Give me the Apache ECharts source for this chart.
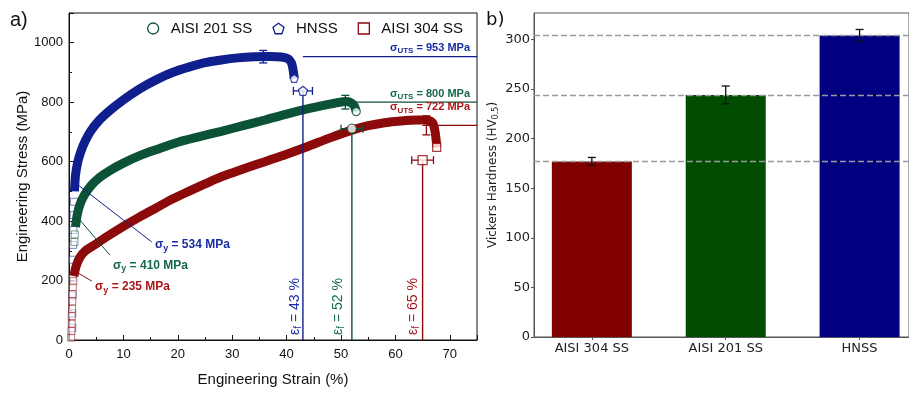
<!DOCTYPE html>
<html>
<head>
<meta charset="utf-8">
<script src="https://cdn.jsdelivr.net/npm/echarts@6/dist/echarts.min.js"></script>
<style>
html, body { margin: 0; padding: 0; background: #fff; }
#chart { width: 909px; height: 393px; }
</style>
</head>
<body>
<div id="chart"></div>
<script>
// ---- Tensile test curves: [engineering strain %, engineering stress MPa] ----
const hnssCurve = [
  [1.0,500],[1.2,555],[1.6,598],[2.2,635],[3,670],[4,703],[5.5,738],[7.5,772],
  [10,808],[13,845],[16,875],[19,900],[22,918],[25,933],[28,942],[31,949],
  [34,953],[37,954],[39,952],[40.3,946],[40.9,932],[41.2,908],[41.4,880]
];
const ss201Curve = [
  [1.2,380],[1.5,420],[2,455],[2.8,487],[4,518],[5.5,545],[7.5,570],[10,595],
  [13,620],[16,640],[20,665],[24,684],[28,702],[32,721],[36,740],[40,760],
  [44,778],[47,790],[49.5,799],[51,802],[52,796],[52.5,785],[52.8,768]
];
const ss304Curve = [
  [0.9,215],[1.3,248],[2,278],[3,300],[4.5,318],[7,348],[10,382],[13,414],
  [16,444],[19,474],[22,500],[25,525],[28,549],[32,575],[36,600],[40,625],
  [44,652],[48,680],[52,706],[55,721],[58,731],[61,737],[64,740],[65.5,740],
  [66.5,736],[67,724],[67.3,700],[67.5,672],[67.6,648]
];
// elastic-range samples drawn as open markers
const hnssElastic = [[0.6,40],[0.6,90],[0.65,150],[0.7,210],[0.7,270],[0.75,320],[0.8,370],[0.85,420],[0.9,465]];
const ss201Elastic = [[1.0,330],[1.05,355]];
const ss304Elastic = [[0.4,8],[0.45,30],[0.5,55],[0.5,80],[0.55,105],[0.6,130],[0.65,155],[0.7,178],[0.8,198]];

// ---- Key properties, order: AISI 201 SS, HNSS, AISI 304 SS ----
const alloyNames     = ['AISI 201 SS', 'HNSS', 'AISI 304 SS'];
const yieldStress    = [410, 534, 235];
const yieldStrain    = [1.7, 0.8, 0.8];
const utsStress      = [800, 953, 722];
const utsStrain      = [50.8, 35.7, 65.7];
const utsErr         = [23, 21, 32];
const fractureStrain = [52, 43, 65];
const fractureStress = [711, 838, 605];
const fractureErr    = [2, 1.75, 2];

// ---- Vickers hardness ----
const hardnessCats = ['AISI 304 SS', 'AISI 201 SS', 'HNSS'];
const hardness     = [177, 244, 304];
const hardnessErr  = [4, 9, 6];

// ---- styling ----
const lineColors = ['#0c5236', '#0f1f8e', '#8c0a0a'];
const textColors = ['#17694a', '#1a2ca6', '#a8171b'];
const markerSymbols = ['circle', 'path://M0,-10L9.51,-3.09L5.88,8.09L-5.88,8.09L-9.51,-3.09Z', 'rect'];
const barColors = ['#800000', '#004d00', '#000080'];
const curves = [ss201Curve, hnssCurve, ss304Curve];
const elastic = [ss201Elastic, hnssElastic, ss304Elastic];
const LEFT_FONT = '"Liberation Sans", Arial, sans-serif';
const RIGHT_FONT = '"DejaVu Sans", sans-serif';
const STRAIN_MAX = 75;

// annotation anchor layout (data coordinates of the left panel)
const yieldLabelAt = [[8.1, 249], [15.8, 319], [4.8, 178]];
const yieldLeaderEnd = [[7.5, 286], [15.2, 330], [4.2, 198]];
const utsLabelOffset = [-1, -2, -11];
const fracLabelOffset = [-14, -8, -9];

function renderAnnotations(params, api) {
  const i = params.dataIndex;
  const c = lineColors[i];
  const tc = textColors[i];
  const P = (x, y) => api.coord([x, y]);
  const seg = (a, b, w) => ({ type: 'line', shape: { x1: a[0], y1: a[1], x2: b[0], y2: b[1] },
    style: { stroke: c, lineWidth: w || 1.2 } });
  const kids = [];
  // UTS level line
  kids.push(seg(P(fractureStrain[i], utsStress[i]), P(STRAIN_MAX, utsStress[i]), 1.3));
  // UTS error bar
  const t = P(utsStrain[i], utsStress[i] + utsErr[i]);
  const b = P(utsStrain[i], utsStress[i] - utsErr[i]);
  kids.push(seg(t, b, 1.3), seg([t[0] - 4, t[1]], [t[0] + 4, t[1]], 1.3), seg([b[0] - 4, b[1]], [b[0] + 4, b[1]], 1.3));
  // fracture strain drop line
  const f = P(fractureStrain[i], fractureStress[i]);
  kids.push(seg(f, P(fractureStrain[i], 0), 1.4));
  // fracture strain error bar
  const l = P(fractureStrain[i] - fractureErr[i], fractureStress[i]);
  const r = P(fractureStrain[i] + fractureErr[i], fractureStress[i]);
  kids.push(seg(l, r, 1.3), seg([l[0], l[1] - 4], [l[0], l[1] + 4], 1.3), seg([r[0], r[1] - 4], [r[0], r[1] + 4], 1.3));
  // yield leader line
  kids.push(seg(P(yieldStrain[i], yieldStress[i]), P(yieldLeaderEnd[i][0], yieldLeaderEnd[i][1]), 1));
  // σ_UTS label
  const ut = P(STRAIN_MAX, utsStress[i]);
  kids.push({ type: 'text', x: ut[0] - 7, y: ut[1] + utsLabelOffset[i],
    style: { text: '{g|σ}{s|UTS}{g| = ' + utsStress[i] + ' MPa}', align: 'right', verticalAlign: 'bottom',
      rich: {
        g: { fill: tc, fontSize: 11, fontWeight: 'bold', fontFamily: LEFT_FONT, lineHeight: 14 },
        s: { fill: tc, fontSize: 8, fontWeight: 'bold', fontFamily: LEFT_FONT, lineHeight: 8, padding: [6, 0, 0, 0] }
      } } });
  // σ_y label
  const yl = P(yieldLabelAt[i][0], yieldLabelAt[i][1]);
  kids.push({ type: 'text', x: yl[0], y: yl[1],
    style: { text: '{g|σ}{s|y}{g| = ' + yieldStress[i] + ' MPa}', align: 'left', verticalAlign: 'middle',
      rich: {
        g: { fill: tc, fontSize: 12, fontWeight: 'bold', fontFamily: LEFT_FONT, lineHeight: 15 },
        s: { fill: tc, fontSize: 9, fontWeight: 'bold', fontFamily: LEFT_FONT, lineHeight: 9, padding: [6, 0, 0, 0] }
      } } });
  // ε_f label
  const fb = P(fractureStrain[i], 0);
  kids.push({ type: 'text', x: fb[0] + fracLabelOffset[i], y: fb[1] - 5, rotation: Math.PI / 2,
    style: { text: '{g|ε}{s|f}{g| = ' + fractureStrain[i] + ' %}', align: 'left', verticalAlign: 'middle',
      rich: {
        g: { fill: tc, fontSize: 14, fontWeight: 500, fontFamily: LEFT_FONT, lineHeight: 16 },
        s: { fill: tc, fontSize: 10, fontFamily: LEFT_FONT, lineHeight: 10, padding: [6, 0, 0, 0] }
      } } });
  return { type: 'group', children: kids };
}

function renderHardnessErr(params, api) {
  const x = api.value(0), v = api.value(1), e = api.value(2);
  const t = api.coord([x, v + e]), b = api.coord([x, v - e]);
  const st = { stroke: '#111', lineWidth: 1.3 };
  return { type: 'group', children: [
    { type: 'line', shape: { x1: t[0], y1: t[1], x2: b[0], y2: b[1] }, style: st },
    { type: 'line', shape: { x1: t[0] - 4, y1: t[1], x2: t[0] + 4, y2: t[1] }, style: st },
    { type: 'line', shape: { x1: b[0] - 4, y1: b[1], x2: b[0] + 4, y2: b[1] }, style: st }
  ] };
}

const series = [];
// elastic markers (faint open symbols)
[1, 0, 2].forEach(i => {
  series.push({
    type: 'scatter', xAxisIndex: 0, yAxisIndex: 0, data: elastic[i], symbol: 'rect', symbolSize: 7,
    itemStyle: { color: '#fff', borderColor: lineColors[i], borderWidth: 1, opacity: 0.55 },
    silent: true, z: 3
  });
});
// stress-strain curves
[1, 0, 2].forEach(i => {
  series.push({
    name: alloyNames[i], type: 'line', xAxisIndex: 0, yAxisIndex: 0, data: curves[i],
    smooth: 0.3, showSymbol: false, lineStyle: { color: lineColors[i], width: 9 },
    itemStyle: { color: lineColors[i] }, z: 4
  });
});
// open marker on the last recorded point of each curve
alloyNames.forEach((n, i) => {
  series.push({
    type: 'scatter', xAxisIndex: 0, yAxisIndex: 0, data: [curves[i][curves[i].length - 1]],
    symbol: markerSymbols[i], symbolSize: 8,
    itemStyle: { color: '#fff', borderColor: lineColors[i], borderWidth: 1.2 }, z: 5, silent: true
  });
});
// annotations
series.push({
  type: 'custom', xAxisIndex: 0, yAxisIndex: 0, renderItem: renderAnnotations,
  data: alloyNames.map((n, i) => [fractureStrain[i], fractureStress[i]]), z: 5, silent: true
});
// fracture point markers
alloyNames.forEach((n, i) => {
  series.push({
    type: 'scatter', xAxisIndex: 0, yAxisIndex: 0, data: [[fractureStrain[i], fractureStress[i]]],
    symbol: markerSymbols[i], symbolSize: 9,
    itemStyle: { color: '#fff', borderColor: lineColors[i], borderWidth: 1.3 }, z: 6, silent: true
  });
});
// hardness bars
series.push({
  type: 'bar', xAxisIndex: 1, yAxisIndex: 1, barWidth: 80,
  data: hardness.map((v, i) => ({ value: [i, v], itemStyle: { color: barColors[i] } })),
  markLine: {
    silent: true, symbol: 'none', label: { show: false },
    lineStyle: { color: '#9a9a9a', type: [6, 3], width: 1.3 },
    data: hardness.map(v => ({ yAxis: v }))
  },
  z: 2
});
series.push({
  type: 'custom', xAxisIndex: 1, yAxisIndex: 1, renderItem: renderHardnessErr,
  data: hardness.map((v, i) => [i, v, hardnessErr[i]]), z: 5, silent: true
});

const chart = echarts.init(document.getElementById('chart'), null, { renderer: 'canvas' });
chart.setOption({
  animation: false,
  backgroundColor: '#fff',
  grid: [
    { left: 69, top: 13, width: 408, height: 327, show: true, borderColor: '#111', borderWidth: 1, backgroundColor: 'transparent' },
    { left: 534, top: 13, right: -1, height: 324, show: true, borderColor: '#555', borderWidth: 1, backgroundColor: 'transparent' }
  ],
  legend: {
    left: 142, top: 16, itemWidth: 11, itemHeight: 11, itemGap: 20,
    textStyle: { fontFamily: LEFT_FONT, fontSize: 15, color: '#111', padding: [0, 0, 0, 7] },
    data: [0, 1, 2].map(i => ({
      name: alloyNames[i], icon: markerSymbols[i],
      itemStyle: { color: '#fff', borderColor: lineColors[i], borderWidth: 1.3 }
    }))
  },
  xAxis: [
    {
      type: 'value', gridIndex: 0, min: 0, max: STRAIN_MAX, interval: 10,
      name: 'Engineering Strain (%)', nameLocation: 'middle', nameGap: 32,
      nameTextStyle: { fontFamily: LEFT_FONT, fontSize: 15, color: '#111' },
      axisLine: { onZero: false, lineStyle: { color: '#111', width: 1 } },
      axisTick: { inside: true, length: 5, lineStyle: { color: '#111' } },
      minorTick: { show: true, splitNumber: 2, length: 3, lineStyle: { color: '#111' } },
      axisLabel: { fontFamily: LEFT_FONT, fontSize: 13, color: '#111', margin: 8, showMaxLabel: false },
      splitLine: { show: false }
    },
    {
      type: 'value', gridIndex: 1, min: -0.432, max: 2.369,
      axisLine: { onZero: false, lineStyle: { color: '#555' } },
      axisTick: { show: true, length: 3, customValues: [0, 1, 2], lineStyle: { color: '#555' } },
      axisLabel: { fontFamily: RIGHT_FONT, fontSize: 13, color: '#222', margin: 5,
        customValues: [0, 1, 2], formatter: v => hardnessCats[Math.round(v)] },
      splitLine: { show: false }
    }
  ],
  yAxis: [
    {
      type: 'value', gridIndex: 0, min: 0, max: 1100, interval: 200,
      name: 'Engineering Stress (MPa)', nameLocation: 'middle', nameGap: 36,
      nameTextStyle: { fontFamily: LEFT_FONT, fontSize: 15, color: '#111' },
      axisLine: { onZero: false, lineStyle: { color: '#111', width: 1 } },
      axisTick: { inside: true, length: 5, lineStyle: { color: '#111' } },
      minorTick: { show: true, splitNumber: 2, length: 3, lineStyle: { color: '#111' } },
      axisLabel: { fontFamily: LEFT_FONT, fontSize: 13, color: '#111', margin: 6, showMaxLabel: false,
        formatter: v => String(v) },
      splitLine: { show: false }
    },
    {
      type: 'value', gridIndex: 1, min: 0, max: 326.6, interval: 50,
      name: 'Vickers Hardness (HV{s|0.5})', nameLocation: 'middle', nameGap: 34,
      nameTextStyle: { fontFamily: RIGHT_FONT, fontSize: 12, color: '#222',
        rich: { s: { fontFamily: RIGHT_FONT, fontSize: 8, color: '#222', padding: [6, 0, 0, 0] } } },
      axisLine: { show: true, onZero: false, lineStyle: { color: '#555' } },
      axisTick: { show: true, length: 3, lineStyle: { color: '#555' } },
      axisLabel: { fontFamily: RIGHT_FONT, fontSize: 13, color: '#222', margin: 4, showMaxLabel: false },
      splitLine: { show: false }
    }
  ],
  graphic: [
    { type: 'text', left: 10, top: 10, style: { text: 'a)', font: '20px ' + LEFT_FONT, fill: '#111' } },
    { type: 'text', left: 486, top: 11, style: { text: 'b)', font: '18px ' + RIGHT_FONT, fill: '#111' } }
  ],
  series: series
});
</script>
</body>
</html>
